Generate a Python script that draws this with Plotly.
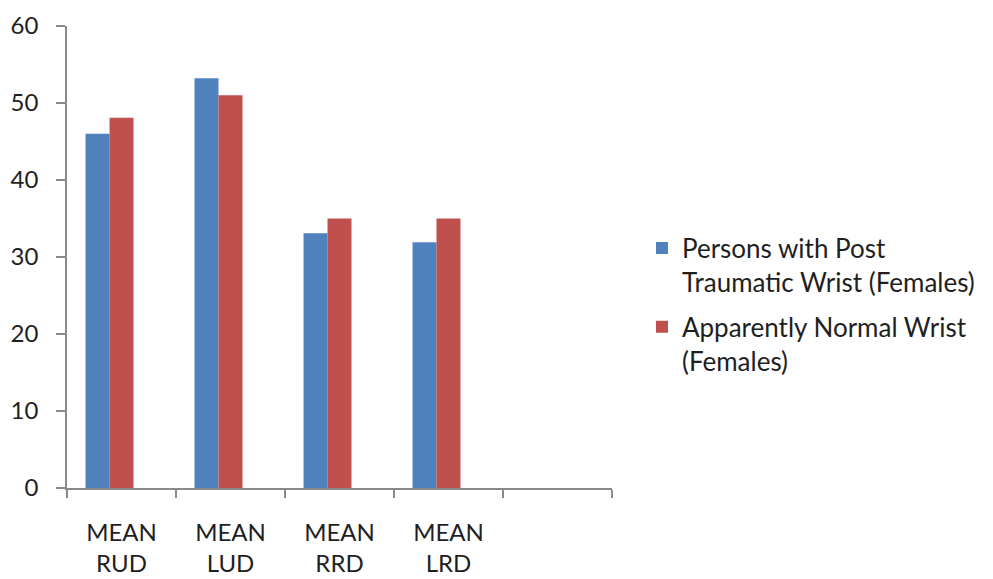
import plotly.graph_objects as go

categories = ["MEAN<br>RUD", "MEAN<br>LUD", "MEAN<br>RRD", "MEAN<br>LRD", " "]
post_traumatic = [46.0, 53.2, 33.1, 31.9, None]
normal_wrist = [48.1, 51.0, 35.0, 35.0, None]
hidden_series = [None, None, None, None, None]
y_ticks = [0, 10, 20, 30, 40, 50, 60]

FONT = "Lato"
TXT = "#1f1f1f"
fig = go.Figure()
fig.add_trace(go.Bar(x=categories, y=post_traumatic,
                     name="Persons with Post<br>Traumatic Wrist (Females)",
                     marker=dict(color="#4F81BD", line=dict(width=0)),
                     legendgroup="a"))
fig.add_trace(go.Bar(x=categories, y=normal_wrist,
                     name="Apparently Normal Wrist<br>(Females)",
                     marker=dict(color="#C0504D", line=dict(width=0)),
                     legendgroup="b"))
fig.add_trace(go.Bar(x=categories, y=hidden_series, showlegend=False,
                     marker=dict(color="rgba(0,0,0,0)"), hoverinfo="skip"))

# the page body has an 8px margin, so the figure is drawn 8px smaller
fig.update_layout(
    width=985, height=571,
    margin=dict(l=59, r=381, t=18, b=91, autoexpand=False),
    paper_bgcolor="white", plot_bgcolor="white",
    barmode="group", bargap=0.34, bargroupgap=0,
    font=dict(family=FONT, size=24, color=TXT),
    showlegend=True,
    legend=dict(x=1.055, xanchor="left", y=0.570, yanchor="top",
                traceorder="grouped", tracegroupgap=8, valign="top",
                font=dict(family=FONT, size=26, color=TXT),
                bgcolor="rgba(0,0,0,0)"),
)
fig.update_xaxes(
    type="category", categoryorder="array", categoryarray=categories,
    range=[-0.5, 4.5], tickson="boundaries", automargin=False,
    showline=True, linecolor="#8a8a8a", linewidth=1.5,
    ticks="outside", ticklen=8, tickcolor="#8a8a8a", tickwidth=1.5,
    ticklabelstandoff=22,
    showgrid=False, zeroline=False,
    tickfont=dict(family=FONT, size=24, color=TXT),
)
fig.update_yaxes(
    range=[0, 60], tickvals=y_ticks, automargin=False,
    showline=True, linecolor="#8a8a8a", linewidth=1.5,
    ticks="outside", ticklen=9, tickcolor="#8a8a8a", tickwidth=1.5,
    ticklabelstandoff=13,
    showgrid=False, zeroline=False,
    tickfont=dict(family=FONT, size=24, color=TXT),
)

fig.write_html("out.html")
